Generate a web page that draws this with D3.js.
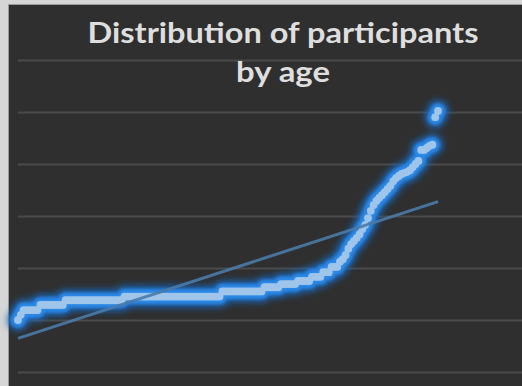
<!DOCTYPE html>
<html>
<head>
<meta charset="utf-8">
<script src="https://cdn.jsdelivr.net/npm/d3@7"></script>
<style>
  html, body { margin: 0; padding: 0; background: #d6d6d6; }
  svg { display: block; }
</style>
</head>
<body>
<svg id="chart" width="522" height="386"></svg>
<script>
// title lines
var titleLines = ["Distribution of participants", "by age"];

// participants sorted by age
var ages = [
    20, 21,
    21.9, 21.9, 21.9, 21.9, 21.9, 21.9,
    22.9, 22.9, 22.9, 22.9, 22.9, 22.9, 22.9, 22.9, 22.9,
    23.8, 23.8, 23.8, 23.8, 23.8, 23.8, 23.8, 23.8, 23.8, 23.8,
    23.8, 23.8, 23.8, 23.8, 23.8, 23.8, 23.8, 23.8, 23.8, 23.8, 23.8,
    24.5, 24.5, 24.5, 24.5, 24.5, 24.5, 24.5, 24.5, 24.5, 24.5,
    24.5, 24.5, 24.5, 24.5, 24.5, 24.5, 24.5, 24.5, 24.5, 24.5,
    24.5, 24.5, 24.5, 24.5, 24.5, 24.5, 24.5, 24.5, 24.5, 24.5,
    24.5, 24.5, 24.5, 24.5, 24.5,
    25.5, 25.5, 25.5, 25.5, 25.5, 25.5, 25.5, 25.5, 25.5, 25.5,
    25.5, 25.5, 25.5, 25.5, 25.5,
    26.3, 26.3, 26.3, 26.3, 26.3, 26.3,
    26.9, 26.9, 26.9, 26.9, 26.9, 26.9,
    27.5, 27.5, 27.5, 27.5, 27.5,
    28.3, 28.3, 28.3, 28.3,
    29.2, 29.2, 29.2,
    30.2, 30.2, 30.2,
    31.2, 31.7, 32.5, 33.7, 34.6, 35.2, 35.8, 36.5, 37.5, 38.3,
    39.6, 41.0, 42.1, 42.9, 43.5, 44.0, 44.6, 45.2, 45.8, 46.7,
    47.3, 47.7, 48.1, 48.3, 48.5, 48.8, 49.4, 50.0, 50.6, 52.7,
    52.7, 53.1, 53.5, 53.7, 59.0, 60.2
];

// gridline values
var yTicks = [10, 20, 30, 40, 50, 60, 70];

var svg = d3.select("#chart");
var W = 522, H = 386;

// chart background
svg.append("rect")
    .attr("x", 8.5).attr("y", 4.5)
    .attr("width", W).attr("height", H)
    .attr("fill", "#2f2f2f")
    .attr("stroke", "#9a9a9a")
    .attr("stroke-width", 1);

var data = ages.map(function(a, i){ return {n: i + 1, age: a}; });

var xScale = d3.scaleLinear()
    .domain([1, ages.length])
    .range([18, 438]);
var yScale = d3.scaleLinear()
    .domain([10, 70])
    .range([372, 60]);

// horizontal gridlines
var yAxis = d3.axisLeft(yScale)
    .tickValues(yTicks)
    .tickSize(-(W - 18 + 20))
    .tickFormat("");

var grid = svg.append("g")
    .attr("class", "grid")
    .attr("transform", "translate(18,0)")
    .call(yAxis);
grid.select(".domain").remove();
grid.selectAll("line")
    .attr("stroke", "#4b4b4b")
    .attr("stroke-width", 2);

// glow filters
var defs = svg.append("defs");
[["glowWide", 3.5], ["glowTight", 1.8]].forEach(function(f){
    defs.append("filter")
        .attr("id", f[0])
        .attr("x", "-50%").attr("y", "-50%")
        .attr("width", "200%").attr("height", "200%")
      .append("feGaussianBlur")
        .attr("stdDeviation", f[1]);
});

// glow layers (wide soft + tighter bright)
[{r: 10.5, c: "#1a68bd", f: "glowWide"}, {r: 7.5, c: "#2b88e6", f: "glowTight"}].forEach(function(layer){
    svg.append("g")
        .attr("filter", "url(#" + layer.f + ")")
      .selectAll("circle")
        .data(data)
        .enter().append("circle")
        .attr("cx", function(d){ return xScale(d.n); })
        .attr("cy", function(d){ return yScale(d.age); })
        .attr("r", layer.r)
        .attr("fill", layer.c);
});

// linear trendline (least squares)
var mx = d3.mean(data, function(d){ return d.n; });
var my = d3.mean(data, function(d){ return d.age; });
var sxy = d3.sum(data, function(d){ return (d.n - mx) * (d.age - my); });
var sxx = d3.sum(data, function(d){ return (d.n - mx) * (d.n - mx); });
var slope = sxy / sxx;
var intercept = my - slope * mx;
var trend = [1, ages.length].map(function(n){ return {n: n, age: intercept + slope * n}; });

// points core
svg.append("g")
  .selectAll("circle")
    .data(data)
    .enter().append("circle")
    .attr("cx", function(d){ return xScale(d.n); })
    .attr("cy", function(d){ return yScale(d.age); })
    .attr("r", 3.9)
    .attr("fill", "#9fc5ea");

svg.append("path")
    .datum(trend)
    .attr("fill", "none")
    .attr("stroke", "#4a7aa8")
    .attr("stroke-opacity", 0.9)
    .attr("stroke-width", 3)
    .attr("d", d3.line()
        .x(function(d){ return xScale(d.n); })
        .y(function(d){ return yScale(d.age); }));

// title
svg.append("g")
    .selectAll("text")
    .data(titleLines)
    .enter().append("text")
    .attr("x", 283)
    .attr("y", function(d, i){ return 43 + i * 39; })
    .attr("text-anchor", "middle")
    .attr("font-family", "Lato, 'Open Sans', sans-serif")
    .attr("font-weight", "bold")
    .attr("font-size", 28)
    .attr("fill", "#dedede")
    .attr("textLength", function(d, i){ return i === 0 ? 391 : 94; })
    .attr("lengthAdjust", "spacingAndGlyphs")
    .text(function(d){ return d; });
</script>
</body>
</html>
